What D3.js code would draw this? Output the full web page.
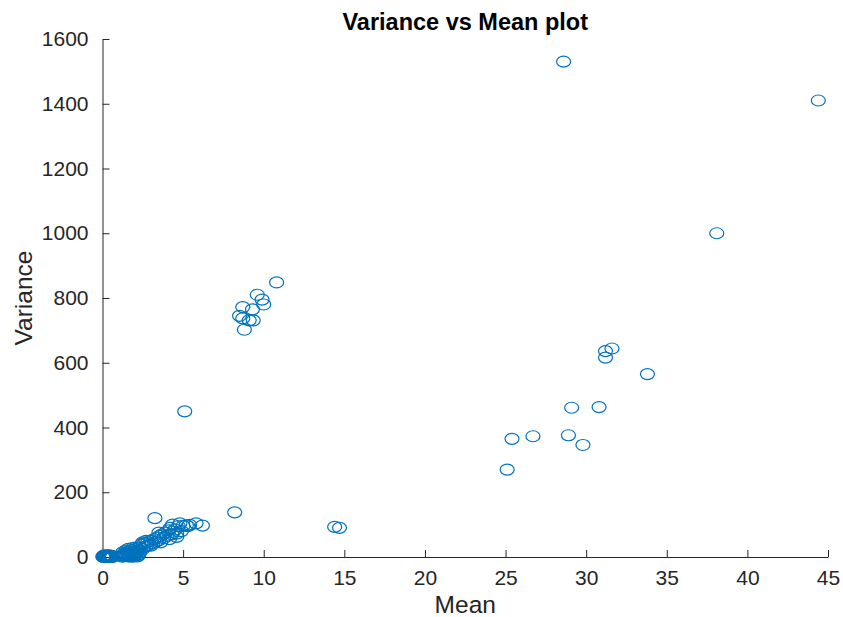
<!DOCTYPE html>
<html>
<head>
<meta charset="utf-8">
<script src="https://cdn.jsdelivr.net/npm/d3@7"></script>
<style>
  body { margin: 0; background: #fff; }
  .chart text { font-family: "Liberation Sans", Arial, sans-serif; fill: #262626; }
</style>
</head>
<body>
<div class="chart"></div>
<script>
// values
const meanValues = [
  0.05, 0.1, 0.12, 0.15, 0.18, 0.2, 0.22, 0.25, 0.28, 0.3, 0.32, 0.35, 0.38, 0.4, 0.42, 0.45, 0.48, 0.5, 0.52, 0.55, 0.58, 0.6, 0.08, 0.27, 0.44,
  0.02, 0.14, 0.24, 0.34, 0.46, 0.56, 0.62, 0.1, 0.3, 0.5,
  1.2, 1.3, 1.35, 1.4, 1.5, 1.55, 1.6, 1.65, 1.7, 1.75, 1.8, 1.85, 1.9, 1.95, 2.0, 2.05, 2.1, 2.15, 2.2, 2.3, 1.45, 1.25, 1.6, 1.9,
  1.22, 1.4, 1.58, 1.72, 1.88, 2.02, 2.18, 2.25, 1.35, 1.8, 2.1,
  2.3, 2.4, 2.5, 2.6, 2.7, 2.8, 2.9, 3.0, 3.1, 3.2, 3.3, 3.4, 3.5, 3.55, 3.6, 3.7, 3.8, 3.9, 4.0, 4.1, 4.15, 4.2, 4.3, 4.35, 4.4, 4.5, 4.6, 4.7, 4.8, 4.9, 5.0, 5.2, 5.3, 5.4, 5.8, 6.2, 3.25, 2.5, 2.7, 3.0, 3.5, 4.6,
  5.1, 8.2, 14.4, 14.7,
  10.8, 9.6, 9.9, 10.0, 8.7, 9.3, 8.5, 8.7, 9.1, 9.35, 8.8,
  28.6, 44.4, 38.1,
  31.2, 31.6, 31.2, 33.8, 29.1, 30.8, 25.4, 26.7, 28.9, 29.8, 25.1
];
const varianceValues = [
  0, 1, 0, 2, 0, 1, 3, 0, 1, 2, 0, 1, 3, 0, 2, 1, 0, 2, 1, 0, 3, 1, 2, 4, 4,
  1, 3, 2, 4, 3, 2, 0, 5, 5, 4,
  5, 8, 3, 12, 6, 15, 2, 10, 18, 5, 13, 22, 8, 3, 16, 25, 10, 5, 20, 14, 20, 14, 25, 28,
  1, 4, 7, 2, 1, 6, 2, 8, 9, 10, 15,
  30, 38, 25, 42, 33, 45, 38, 50, 42, 55, 47, 60, 52, 65, 45, 70, 58, 75, 65, 82, 55, 90, 70, 100, 78, 85, 62, 95, 104, 80, 96, 98, 95, 99, 104, 97, 120, 45, 50, 35, 75, 72,
  450, 138, 93, 90,
  848, 810, 795, 780, 772, 765, 745, 737, 731, 731, 702,
  1530, 1410, 1000,
  636, 644, 616, 565, 461, 463, 365, 373, 376, 346, 270
];
const xTicks = [0, 5, 10, 15, 20, 25, 30, 35, 40, 45];
const yTicks = [0, 200, 400, 600, 800, 1000, 1200, 1400, 1600];

const W = 843, H = 617;
const margin = ({top: 39, right: 15, bottom: 60, left: 102.5});

const x = d3.scaleLinear().domain([0, 45]).range([margin.left, W - margin.right]);
const y = d3.scaleLinear().domain([0, 1600]).range([H - margin.bottom, margin.top]);

const svg = d3.select(".chart").append("svg")
    .attr("width", W)
    .attr("height", H);

// x axis, ticks pointing inward like matlab
svg.append("g")
    .attr("transform", `translate(0,${y(0)})`)
    .call(d3.axisBottom(x).tickValues(xTicks).tickFormat(d3.format("d")).tickSizeInner(-7).tickSizeOuter(0).tickPadding(13))
    .call(g => g.select(".domain").attr("stroke", "#262626"))
    .call(g => g.selectAll(".tick line").attr("stroke", "#262626"))
    .call(g => g.selectAll(".tick text").attr("font-size", 21).attr("dy", "0.71em"));

svg.append("g")
    .attr("transform", `translate(${x(0)},0)`)
    .call(d3.axisLeft(y).tickValues(yTicks).tickFormat(d3.format("d")).tickSizeInner(-7).tickSizeOuter(0).tickPadding(14))
    .call(g => g.select(".domain").attr("stroke", "#262626"))
    .call(g => g.selectAll(".tick line").attr("stroke", "#262626"))
    .call(g => g.selectAll(".tick text").attr("font-size", 21));

svg.append("g")
    .attr("fill", "none")
    .attr("stroke", "#0072BD")
    .attr("stroke-width", 1.2)
    .selectAll("ellipse")
    .data(d3.range(meanValues.length))
    .join("ellipse")
    .attr("cx", i => x(meanValues[i]))
    .attr("cy", i => y(varianceValues[i]))
    .attr("rx", 7)
    .attr("ry", 5.5);

svg.append("text")
    .attr("x", (x(0) + x(45)) / 2)
    .attr("y", 30)
    .attr("text-anchor", "middle")
    .attr("font-size", 23.5)
    .attr("font-weight", "bold")
    .style("fill", "#000")
    .text("Variance vs Mean plot");

svg.append("text")
    .attr("x", (x(0) + x(45)) / 2)
    .attr("y", 613)
    .attr("text-anchor", "middle")
    .attr("font-size", 24.5)
    .text("Mean");

svg.append("text")
    .attr("transform", `translate(32,${(y(0) + y(1600)) / 2}) rotate(-90)`)
    .attr("text-anchor", "middle")
    .attr("font-size", 24.5)
    .text("Variance");
</script>
</body>
</html>
